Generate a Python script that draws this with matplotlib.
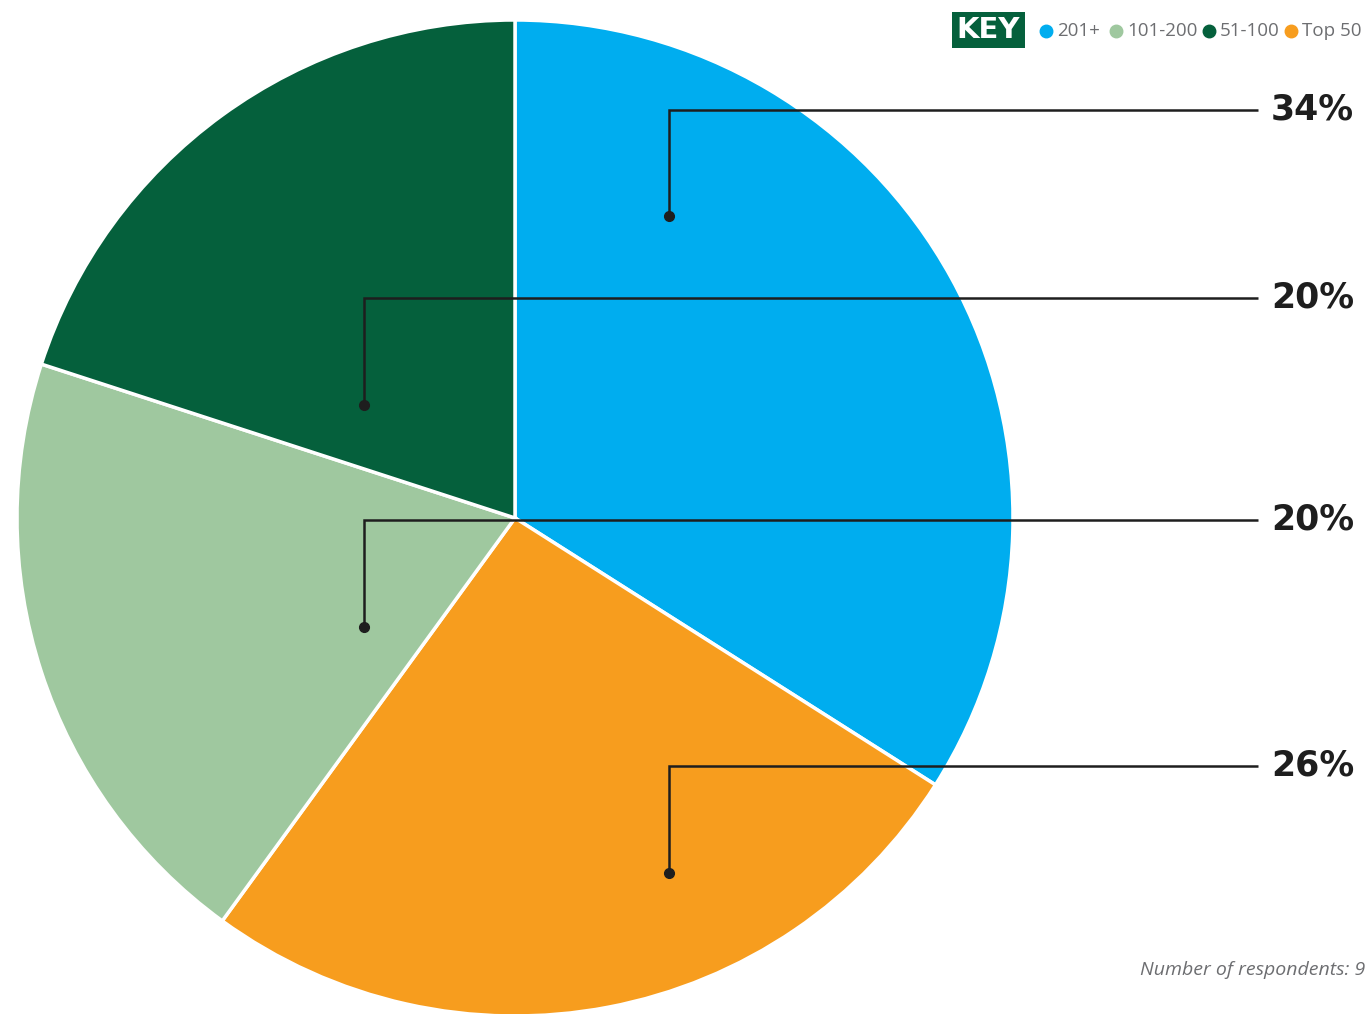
import matplotlib
matplotlib.use("Agg")
import matplotlib.pyplot as plt
from matplotlib.patches import Rectangle

# Data
categories = ["201+", "Top 50", "101-200", "51-100"]
shares = [34, 26, 20, 20]
colors = ["#00adef", "#f79d1e", "#9fc89f", "#05603c"]
legend_order = ["201+", "101-200", "51-100", "Top 50"]
footnote = "Number of respondents: 9"

W, H = 1366, 1014
fig = plt.figure(figsize=(W / 100, H / 100), dpi=100)
ax = fig.add_axes([0, 0, 1, 1])

def Y(y):
    return H - y

cx, cy, R = 515, Y(518), 498
wedges, _ = ax.pie(shares, colors=colors, startangle=90, counterclock=False,
                   center=(cx, cy), radius=R, frame=True,
                   wedgeprops=dict(edgecolor="white", linewidth=2.5))
ax.set_xlim(0, W)
ax.set_ylim(0, H)
ax.set_aspect("equal")
ax.axis("off")

# callouts: (dot x, dot y, line y) in image pixels
callouts = [(669, 216, 110), (364, 405, 298), (364, 627, 520), (669, 873, 766)]
label_vals = [34, 20, 20, 26]
line_col = "#1e1e1e"
for (dx, dy, ly), v in zip(callouts, label_vals):
    ax.plot([dx, dx, 1258], [Y(dy), Y(ly), Y(ly)], color=line_col, lw=1.8,
            solid_joinstyle="miter", solid_capstyle="butt")
    ax.plot([dx], [Y(dy)], "o", color=line_col, ms=7)
    ax.text(1271, Y(ly), f"{v}%", ha="left", va="center", fontsize=25,
            fontweight="heavy", family="DejaVu Sans", color="#1e1e1e")

# KEY legend
ax.add_patch(Rectangle((952, Y(48)), 73, 36, color="#05603c", lw=0))
ax.text(988.5, Y(30), "KEY", ha="center", va="center", fontsize=21,
        fontweight="heavy", family="DejaVu Sans", color="white")
legend_x = [1046, 1116, 1209, 1291]
cmap = dict(zip(categories, colors))
for x, name in zip(legend_x, legend_order):
    ax.plot([x], [Y(31)], "o", color=cmap[name], ms=9)
    ax.text(x + 11, Y(31), name, ha="left", va="center", fontsize=13.5,
            family="Open Sans", color="#6d6e71")

ax.text(1140, Y(970), footnote, ha="left", va="center", fontsize=14,
        family="Open Sans", style="italic", color="#6d6e71")

fig.savefig("out.png", dpi=100)
